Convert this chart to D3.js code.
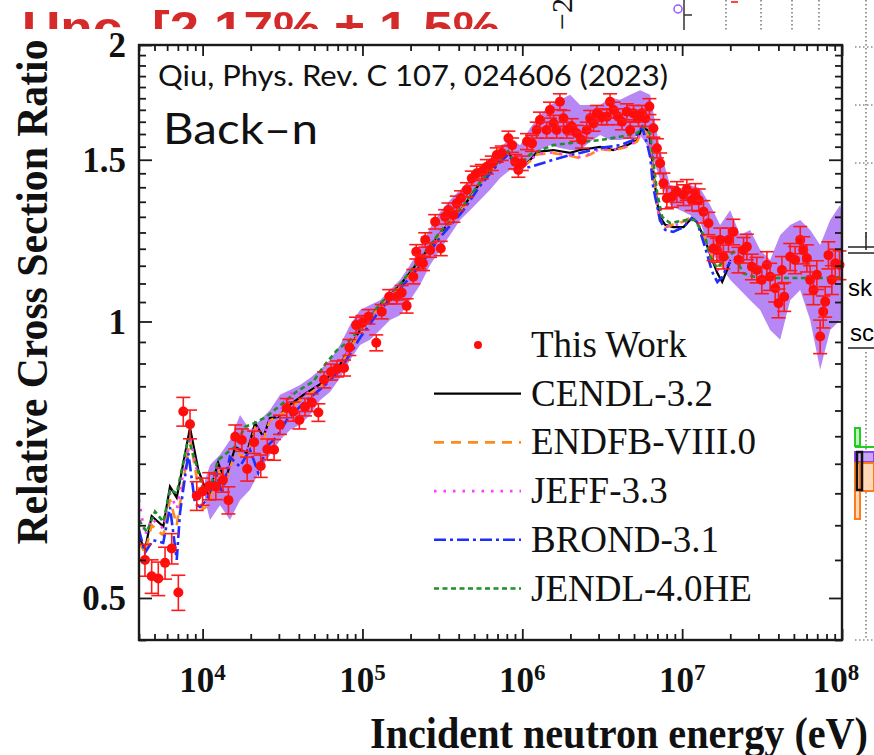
<!DOCTYPE html>
<html>
<head>
<meta charset="utf-8">
<script src="https://cdn.jsdelivr.net/npm/d3@7"></script>
<style>
  html, body { margin: 0; padding: 0; background: #fff; }
  svg { display: block; }
</style>
</head>
<body>
<svg id="chart" width="874" height="755"></svg>
<script>
// ---- data -------------------------------------------------------------
// Measured back-n points: [energy (eV), relative cross-section ratio, uncertainty (%)]
const thisWork = [
  [4.36e3,0.550,4.0],[4.80e3,0.528,4.2],[5.28e3,0.525,4.2],[5.82e3,0.546,4.0],[6.41e3,0.566,3.8],
  [7.05e3,0.507,4.4],[7.57e3,0.798,3.6],[8.34e3,0.773,3.6],[9.19e3,0.646,3.6],[1.00e4,0.653,3.4],
  [1.10e4,0.662,3.4],[1.21e4,0.661,3.2],[1.34e4,0.672,3.0],[1.45e4,0.639,3.4],[1.60e4,0.749,3.0],
  [1.76e4,0.743,2.8],[1.90e4,0.691,3.0],[2.10e4,0.739,2.8],[2.31e4,0.696,2.8],[2.54e4,0.726,2.6],
  [2.80e4,0.725,2.6],[3.05e4,0.772,2.4],[3.36e4,0.805,2.4],[3.70e4,0.798,2.4],[4.03e4,0.781,2.2],
  [4.37e4,0.807,2.2],[4.82e4,0.816,2.2],[5.30e4,0.796,2.2],[5.75e4,0.864,2.0],[6.36e4,0.881,2.0],
  [6.94e4,0.888,2.0],[7.67e4,0.890,2.0],[8.28e4,0.937,2.0],[9.12e4,0.991,2.0],[1.00e5,0.997,1.8],
  [1.09e5,1.012,1.8],[1.22e5,0.948,2.0],[1.32e5,1.025,1.8],[1.47e5,1.064,1.8],[1.64e5,1.064,1.8],
  [1.76e5,1.075,1.8],[1.89e5,1.040,1.8],[2.08e5,1.119,1.8],[2.17e5,1.191,1.8],[2.27e5,1.162,1.8],
  [2.39e5,1.157,1.8],[2.47e5,1.227,1.8],[2.65e5,1.196,1.8],[2.85e5,1.284,1.8],[3.09e5,1.201,1.8],
  [3.29e5,1.300,1.8],[3.45e5,1.322,1.8],[3.71e5,1.306,1.8],[3.89e5,1.345,1.8],[4.14e5,1.363,1.8],
  [4.50e5,1.391,1.8],[4.83e5,1.432,1.8],[5.19e5,1.450,1.8],[5.58e5,1.456,1.8],[6.00e5,1.474,1.8],
  [6.44e5,1.487,1.8],[6.92e5,1.518,1.8],[7.44e5,1.525,1.8],[8.19e5,1.583,1.8],[8.64e5,1.556,1.8],
  [9.02e5,1.493,1.8],[9.45e5,1.462,1.8],[9.93e5,1.487,1.8],[1.07e6,1.570,2.0],[1.15e6,1.563,2.0],
  [1.23e6,1.616,2.0],[1.29e6,1.657,2.0],[1.42e6,1.616,2.0],[1.49e6,1.699,2.0],[1.57e6,1.644,2.0],
  [1.64e6,1.616,2.0],[1.72e6,1.735,2.0],[1.81e6,1.664,2.0],[1.90e6,1.616,2.0],[2.04e6,1.630,2.0],
  [2.19e6,1.603,2.0],[2.36e6,1.576,2.0],[2.53e6,1.616,2.0],[2.66e6,1.664,2.0],[2.79e6,1.644,2.0],
  [2.93e6,1.685,2.0],[3.14e6,1.671,2.0],[3.38e6,1.671,2.0],[3.54e6,1.735,2.0],[3.72e6,1.699,2.0],
  [3.99e6,1.671,2.0],[4.20e6,1.650,2.0],[4.51e6,1.692,2.0],[4.73e6,1.616,2.0],[4.96e6,1.685,2.0],
  [5.33e6,1.664,2.0],[5.60e6,1.685,2.0],[5.87e6,1.664,2.0],[6.24e6,1.714,2.0],[6.61e6,1.623,2.2],
  [6.95e6,1.544,2.4],[7.28e6,1.487,2.6],[7.64e6,1.414,2.6],[8.02e6,1.362,2.6],[8.62e6,1.367,2.6],
  [9.27e6,1.384,2.6],[1.02e7,1.373,2.6],[1.07e7,1.391,2.6],[1.15e7,1.356,2.6],[1.21e7,1.377,2.6],
  [1.27e7,1.356,2.8],[1.36e7,1.317,2.8],[1.46e7,1.279,2.8],[1.57e7,1.201,3.0],[1.65e7,1.196,3.0],
  [1.73e7,1.227,3.0],[1.81e7,1.176,3.0],[1.95e7,1.227,3.0],[2.09e7,1.252,3.2],[2.25e7,1.167,3.2],
  [2.42e7,1.196,3.2],[2.54e7,1.206,3.2],[2.73e7,1.147,3.2],[2.93e7,1.138,3.2],[3.15e7,1.110,3.4],
  [3.39e7,1.152,3.4],[3.55e7,1.119,3.4],[3.82e7,1.087,3.4],[4.01e7,1.047,3.6],[4.21e7,1.138,3.4],
  [4.35e7,1.064,3.6],[4.74e7,1.176,3.4],[5.09e7,1.167,3.4],[5.48e7,1.227,3.4],[5.72e7,1.196,3.4],
  [6.03e7,1.172,3.4],[6.32e7,1.110,3.6],[6.63e7,1.082,3.6],[6.96e7,1.124,3.6],[7.30e7,0.963,4.2],
  [7.63e7,1.025,4.0],[7.85e7,1.051,3.8],[8.23e7,1.181,3.4],[8.64e7,1.110,3.6],[9.07e7,1.157,3.6],
  [9.65e7,1.152,3.6]
];

// Uncertainty band of the measurement: [energy (eV), lower ratio, upper ratio]
const uncertaintyBand = [
  [1.035e4,0.639,0.672],[1.113e4,0.608,0.698],[1.285e4,0.631,0.716],[1.484e4,0.608,0.743],
  [1.714e4,0.639,0.791],[1.980e4,0.656,0.762],[2.287e4,0.689,0.781],[2.641e4,0.716,0.801],
  [3.051e4,0.743,0.832],[3.523e4,0.762,0.842],[4.069e4,0.772,0.853],[4.700e4,0.791,0.868],
  [5.428e4,0.821,0.886],[6.269e4,0.838,0.908],[7.241e4,0.868,0.943],[8.363e4,0.908,0.991],
  [9.660e4,0.943,1.029],[1.116e5,0.955,1.042],[1.289e5,0.979,1.055],[1.488e5,1.004,1.082],
  [1.719e5,1.016,1.110],[1.986e5,1.055,1.152],[2.293e5,1.096,1.202],[2.649e5,1.152,1.264],
  [3.059e5,1.196,1.316],[3.533e5,1.242,1.356],[4.081e5,1.290,1.391],[4.713e5,1.322,1.426],
  [5.444e5,1.356,1.462],[6.288e5,1.391,1.499],[7.262e5,1.433,1.545],[8.388e5,1.462,1.583],
  [9.687e5,1.455,1.556],[1.119e6,1.499,1.624],[1.292e6,1.537,1.678],[1.493e6,1.556,1.721],
  [1.724e6,1.545,1.743],[1.991e6,1.537,1.765],[2.300e6,1.537,1.721],[2.657e6,1.569,1.721],
  [3.068e6,1.596,1.721],[3.543e6,1.576,1.752],[4.093e6,1.576,1.743],[4.728e6,1.583,1.765],
  [5.460e6,1.596,1.786],[6.306e6,1.537,1.765],[7.283e6,1.426,1.537],[8.412e6,1.339,1.408],
  [9.716e6,1.322,1.397],[1.122e7,1.306,1.408],[1.296e7,1.283,1.397],[1.497e7,1.196,1.339],
  [1.729e7,1.152,1.274],[1.997e7,1.110,1.322],[2.306e7,1.082,1.242],[2.664e7,1.055,1.258],
  [3.077e7,1.029,1.196],[3.553e7,0.979,1.167],[4.105e7,0.955,1.242],[4.741e7,1.055,1.274],
  [5.475e7,1.082,1.290],[6.324e7,1.004,1.258],[7.304e7,0.886,1.211],[8.436e7,0.979,1.290],
  [9.743e7,1.004,1.339],[1.0e8,0.991,1.306]
];

// Evaluated-library ratios: [energy (eV), ratio]
const cendl = [
  [4.0e3,0.583],[4.36e3,0.564],[4.80e3,0.614],[5.68e3,0.598],[6.25e3,0.661],[6.89e3,0.643],
  [8.34e3,0.766],[9.40e3,0.689],[1.09e4,0.644],[1.25e4,0.702],[1.38e4,0.669],[1.60e4,0.730],
  [1.89e4,0.719],[2.13e4,0.775],[2.40e4,0.749],[2.64e4,0.785],[2.98e4,0.787],[3.36e4,0.807],
  [4.27e4,0.832],[5.69e4,0.859],[7.24e4,0.897],[9.66e4,0.979],[1.29e5,1.042],[1.72e5,1.096],
  [2.29e5,1.167],[3.06e5,1.248],[4.26e5,1.332],[5.44e5,1.415],[6.95e5,1.488],[8.15e5,1.530],
  [8.76e5,1.499],[9.28e5,1.477],[9.97e5,1.473],[1.12e6,1.499],[1.24e6,1.530],[1.56e6,1.537],
  [1.99e6,1.526],[2.30e6,1.537],[3.07e6,1.549],[3.70e6,1.537],[4.53e6,1.556],[5.23e6,1.576],
  [5.62e6,1.628],[6.04e6,1.616],[6.31e6,1.576],[6.59e6,1.462],[6.98e6,1.346],[7.28e6,1.299],
  [7.83e6,1.274],[8.78e6,1.267],[1.02e7,1.267],[1.15e7,1.296],[1.24e7,1.283],[1.39e7,1.227],
  [1.54e7,1.167],[1.66e7,1.129],[1.78e7,1.104],[1.91e7,1.138],[2.0e7,1.167]
];
const endfb = [
  [4.0e3,0.575],[4.36e3,0.560],[4.80e3,0.600],[5.68e3,0.585],[6.25e3,0.640],[6.89e3,0.600],
  [8.34e3,0.745],[9.40e3,0.660],[1.0e4,0.625],[1.09e4,0.630],[1.25e4,0.690],[1.38e4,0.665],
  [1.60e4,0.720],[1.89e4,0.710],[2.13e4,0.765],[2.40e4,0.745],[2.64e4,0.780],[3.36e4,0.800],
  [4.27e4,0.825],[5.69e4,0.855],[7.24e4,0.895],[9.66e4,0.975],[1.29e5,1.040],[1.72e5,1.090],
  [2.29e5,1.160],[3.06e5,1.245],[4.26e5,1.330],[5.44e5,1.410],[6.95e5,1.485],[8.15e5,1.525],
  [8.76e5,1.495],[9.28e5,1.470],[9.97e5,1.470],[1.12e6,1.495],[1.24e6,1.520],[1.56e6,1.525],
  [1.99e6,1.515],[2.30e6,1.505],[2.66e6,1.520],[3.07e6,1.540],[3.70e6,1.535],[4.53e6,1.550],
  [5.23e6,1.570],[5.62e6,1.615],[6.04e6,1.605],[6.31e6,1.560],[6.59e6,1.440],[6.98e6,1.330],
  [7.28e6,1.285],[7.83e6,1.265],[8.78e6,1.275],[1.02e7,1.285],[1.15e7,1.300],[1.24e7,1.285],
  [1.39e7,1.230],[1.54e7,1.175],[1.66e7,1.150],[1.78e7,1.150],[1.91e7,1.165],[2.0e7,1.175]
];
const jeff = [
  [4.0e3,0.640],[4.36e3,0.585],[4.80e3,0.610],[5.68e3,0.595],[6.25e3,0.650],[6.89e3,0.625],
  [8.34e3,0.750],[9.40e3,0.675],[1.09e4,0.640],[1.25e4,0.700],[1.38e4,0.670],[1.60e4,0.728],
  [1.89e4,0.718],[2.13e4,0.772],[2.40e4,0.748],[2.64e4,0.783],[2.98e4,0.790],[3.36e4,0.830],
  [3.80e4,0.840],[4.27e4,0.830],[5.69e4,0.858],[7.24e4,0.896],[9.66e4,0.977],[1.29e5,1.041],
  [1.72e5,1.093],[2.29e5,1.163],[3.06e5,1.246],[4.26e5,1.331],[5.44e5,1.412],[6.95e5,1.486],
  [8.15e5,1.527],[8.76e5,1.497],[9.28e5,1.474],[9.97e5,1.472],[1.12e6,1.497],[1.24e6,1.522],
  [1.56e6,1.528],[1.99e6,1.518],[2.30e6,1.510],[2.66e6,1.522],[3.07e6,1.542],[3.70e6,1.537],
  [4.53e6,1.552],[5.23e6,1.572],[5.62e6,1.620],[6.04e6,1.610],[6.31e6,1.565],[6.59e6,1.450],
  [6.98e6,1.335],[7.28e6,1.290],[7.83e6,1.268],[8.78e6,1.272],[1.02e7,1.280],[1.15e7,1.298],
  [1.24e7,1.284],[1.39e7,1.228],[1.54e7,1.170],[1.66e7,1.140],[1.78e7,1.130],[1.91e7,1.150],
  [2.0e7,1.165]
];
const brond = [
  [4.0e3,0.593],[4.36e3,0.560],[4.89e3,0.578],[5.67e3,0.574],[6.25e3,0.628],[6.89e3,0.550],
  [7.22e3,0.619],[8.14e3,0.719],[8.96e3,0.634],[9.63e3,0.628],[1.06e4,0.639],[1.23e4,0.681],
  [1.32e4,0.650],[1.48e4,0.712],[1.71e4,0.695],[1.98e4,0.725],[2.23e4,0.684],[2.52e4,0.731],
  [2.91e4,0.749],[3.36e4,0.781],[4.27e4,0.815],[5.69e4,0.849],[7.24e4,0.885],[9.66e4,0.960],
  [1.29e5,1.030],[1.72e5,1.085],[2.29e5,1.150],[3.06e5,1.235],[4.26e5,1.320],[5.44e5,1.405],
  [6.95e5,1.480],[8.15e5,1.520],[8.76e5,1.495],[9.28e5,1.470],[1.0e6,1.470],[1.12e6,1.473],
  [1.56e6,1.500],[1.99e6,1.518],[2.30e6,1.526],[3.07e6,1.545],[4.09e6,1.556],[4.96e6,1.576],
  [5.62e6,1.628],[6.04e6,1.560],[6.31e6,1.511],[6.59e6,1.400],[7.28e6,1.289],[7.83e6,1.258],
  [8.78e6,1.252],[1.02e7,1.267],[1.15e7,1.296],[1.24e7,1.283],[1.39e7,1.205],[1.54e7,1.133],
  [1.66e7,1.104],[1.78e7,1.118],[1.91e7,1.147],[2.0e7,1.160]
];
const jendl = [
  [4.0e3,0.608],[4.47e3,0.590],[5.04e3,0.621],[5.68e3,0.605],[6.25e3,0.656],[6.89e3,0.650],
  [8.14e3,0.746],[9.19e3,0.695],[1.01e4,0.656],[1.11e4,0.656],[1.25e4,0.707],[1.60e4,0.731],
  [1.84e4,0.768],[2.08e4,0.774],[2.52e4,0.788],[3.88e4,0.839],[4.91e4,0.860],[5.90e4,0.900],
  [6.90e4,0.930],[8.40e4,0.955],[9.66e4,0.985],[1.29e5,1.045],[1.72e5,1.098],[2.29e5,1.170],
  [3.06e5,1.252],[4.26e5,1.336],[5.44e5,1.418],[6.95e5,1.490],[8.15e5,1.532],[8.76e5,1.500],
  [9.28e5,1.480],[1.0e6,1.490],[1.12e6,1.520],[1.56e6,1.556],[1.99e6,1.564],[3.07e6,1.576],
  [4.0e6,1.588],[5.23e6,1.604],[5.80e6,1.630],[6.31e6,1.600],[6.59e6,1.500],[6.98e6,1.380],
  [7.50e6,1.300],[8.40e6,1.280],[1.07e7,1.290],[1.20e7,1.290],[1.39e7,1.236],[1.50e7,1.176],
  [1.65e7,1.144],[1.95e7,1.176],[2.09e7,1.190],[2.40e7,1.129],[3.00e7,1.115],[5.00e7,1.115],
  [8.00e7,1.115],[1.0e8,1.118]
];

const legendNames = ["This Work","CENDL-3.2","ENDFB-VIII.0","JEFF-3.3","BROND-3.1","JENDL-4.0HE"];
const xMajorTicks = [1e4,1e5,1e6,1e7,1e8];
const xTickExponents = ["4","5","6","7","8"];
const yMajorTicks = [0.5,1,1.5,2];
const yTickLabels = ["0.5","1","1.5","2"];

// ---- layout -----------------------------------------------------------
const svg = d3.select("#chart");
const L = 139, R = 842, T = 45, B = 640;
const x = d3.scaleLog().domain([4e3, 1e8]).range([L, R]);
const y = d3.scaleLog().domain([0.45, 2]).range([B, T]);

const serif = "'Liberation Serif','Times New Roman',serif";
const sans = "Lato,'Liberation Sans',Arial,sans-serif";

svg.append("defs").append("clipPath").attr("id", "plotClip")
  .append("rect").attr("x", L).attr("y", T).attr("width", R - L).attr("height", B - T);
svg.select("defs").append("clipPath").attr("id", "topClip")
  .append("rect").attr("x", 0).attr("y", 0).attr("width", 540).attr("height", 29);

// ---- fragments of the neighbouring panels ------------------------------
const frag = svg.append("g");
frag.append("text").attr("x", 22).attr("y", 44).attr("clip-path", "url(#topClip)")
  .attr("font-family", "'Liberation Sans',Arial,sans-serif").attr("font-weight", "bold")
  .attr("font-size", 46).attr("fill", "#d42a2a").attr("textLength", 478)
  .attr("lengthAdjust", "spacingAndGlyphs").text("Unc. [2.17% ± 1.5%");
frag.append("text").attr("transform", "translate(572,30) rotate(-90)")
  .attr("font-family", serif).attr("font-size", 30).attr("fill", "#111").text("−2");
frag.append("line").attr("x1", 684).attr("x2", 684).attr("y1", 0).attr("y2", 30).attr("stroke", "#333").attr("stroke-width", 1.5);
frag.append("line").attr("x1", 684).attr("x2", 692).attr("y1", 15).attr("y2", 15).attr("stroke", "#333").attr("stroke-width", 1.5);
frag.append("circle").attr("cx", 678).attr("cy", 9).attr("r", 4).attr("fill", "none").attr("stroke", "#9a55ff").attr("stroke-width", 1.5);
frag.append("line").attr("x1", 731).attr("x2", 738).attr("y1", 2).attr("y2", 2).attr("stroke", "#f44").attr("stroke-width", 2);
[726, 761, 792, 819].forEach(px => frag.append("line").attr("x1", px).attr("x2", px).attr("y1", 0).attr("y2", 30)
  .attr("stroke", "#555").attr("stroke-width", 1.2).attr("stroke-dasharray", "1.5,2.5"));
frag.append("line").attr("x1", 866).attr("x2", 866).attr("y1", 0).attr("y2", 240).attr("stroke", "#555").attr("stroke-width", 1.2).attr("stroke-dasharray", "1.5,2.5");
frag.append("line").attr("x1", 866).attr("x2", 866).attr("y1", 352).attr("y2", 640).attr("stroke", "#555").attr("stroke-width", 1.2).attr("stroke-dasharray", "1.5,2.5");
[47, 105, 163, 640].forEach(py => frag.append("line").attr("x1", 855).attr("x2", 874).attr("y1", py).attr("y2", py)
  .attr("stroke", "#555").attr("stroke-width", 1.2).attr("stroke-dasharray", "1.5,2.5"));
frag.append("line").attr("x1", 866).attr("x2", 866).attr("y1", 232).attr("y2", 250).attr("stroke", "#222").attr("stroke-width", 1.5);
[247, 253].forEach(py => frag.append("line").attr("x1", 848).attr("x2", 874).attr("y1", py).attr("y2", py).attr("stroke", "#222").attr("stroke-width", 1.5));
frag.append("text").attr("x", 848).attr("y", 296).attr("font-family", "'Liberation Sans',Arial,sans-serif").attr("font-size", 24).text("sk");
frag.append("text").attr("x", 850).attr("y", 341).attr("font-family", "'Liberation Sans',Arial,sans-serif").attr("font-size", 24).text("sc");
frag.append("line").attr("x1", 848).attr("x2", 874).attr("y1", 348).attr("y2", 348).attr("stroke", "#222").attr("stroke-width", 1.5);
frag.append("rect").attr("x", 855).attr("y", 428).attr("width", 5).attr("height", 18).attr("fill", "#bff0bf").attr("stroke", "#22cc22").attr("stroke-width", 2);
frag.append("line").attr("x1", 855).attr("x2", 874).attr("y1", 447).attr("y2", 447).attr("stroke", "#22cc22").attr("stroke-width", 2);
frag.append("rect").attr("x", 855).attr("y", 452).attr("width", 19).attr("height", 10).attr("fill", "#c9a6f5").attr("stroke", "#8c44ee").attr("stroke-width", 2);
frag.append("rect").attr("x", 855).attr("y", 463).attr("width", 5).attr("height", 56).attr("fill", "#ffd9b8").attr("stroke", "#ff7a1a").attr("stroke-width", 2);
frag.append("rect").attr("x", 861).attr("y", 463).attr("width", 13).attr("height", 28).attr("fill", "#ffd9b8").attr("stroke", "#ff7a1a").attr("stroke-width", 2);
frag.append("rect").attr("x", 857).attr("y", 452).attr("width", 5).attr("height", 38).attr("fill", "none").attr("stroke", "#111").attr("stroke-width", 2.5);

// ---- plot contents ---------------------------------------------------------
const plot = svg.append("g").attr("clip-path", "url(#plotClip)");

plot.append("path").datum(uncertaintyBand)
  .attr("d", d3.area().x(d => x(d[0])).y0(d => y(d[1])).y1(d => y(d[2])))
  .attr("fill", "#ae7af4").attr("fill-opacity", 0.9);

const curves = [
  { data: cendl, color: "#000000", dash: null, width: 2.2 },
  { data: endfb, color: "#ff8c1a", dash: "10,7", width: 2.6 },
  { data: jeff,  color: "#ff3cff", dash: "2.5,7", width: 2.6 },
  { data: brond, color: "#1f2dff", dash: "12,4,3,4", width: 2.6 },
  { data: jendl, color: "#1f8f2a", dash: "5,3.5", width: 2.6 }
];
const line = d3.line().x(d => x(d[0])).y(d => y(d[1]));
curves.forEach(c => {
  plot.append("path").datum(c.data).attr("d", line)
    .attr("fill", "none").attr("stroke", c.color).attr("stroke-width", c.width)
    .attr("stroke-dasharray", c.dash);
});

const pts = svg.append("g");
thisWork.forEach(([e, r, pct]) => {
  const px = x(e), lo = y(r * (1 - pct / 100)), hi = y(r * (1 + pct / 100));
  pts.append("line").attr("x1", px).attr("x2", px).attr("y1", lo).attr("y2", hi)
    .attr("stroke", "#ff1a1a").attr("stroke-width", 1.6);
  [lo, hi].forEach(v => pts.append("line").attr("x1", px - 7).attr("x2", px + 7).attr("y1", v).attr("y2", v)
    .attr("stroke", "#ff1a1a").attr("stroke-width", 1.6));
  pts.append("circle").attr("cx", px).attr("cy", y(r)).attr("r", 5).attr("fill", "#ff0d0d");
});

// ---- frame and ticks ----------------------------------------------------
const xMinor = [];
for (let d = 3; d <= 7; d++) for (let k = 2; k <= 9; k++) {
  const v = k * Math.pow(10, d);
  if (v >= 4e3 && v <= 1e8) xMinor.push(v);
}
const yMinor = d3.range(9, 41).map(i => +(i * 0.05).toFixed(2)).filter(v => yMajorTicks.indexOf(v) < 0);

function tickAxis(axisFn, scale, values, size, transform) {
  const g = svg.append("g").attr("transform", transform)
    .call(axisFn(scale).tickValues(values).tickSize(size).tickFormat(""));
  g.select(".domain").remove();
  g.selectAll("line").attr("stroke", "#1a1a1a").attr("stroke-width", 1.8);
}
tickAxis(d3.axisBottom, x, xMinor, -6, `translate(0,${B})`);
tickAxis(d3.axisBottom, x, xMajorTicks, -11, `translate(0,${B})`);
tickAxis(d3.axisTop, x, xMinor, -6, `translate(0,${T})`);
tickAxis(d3.axisTop, x, xMajorTicks, -11, `translate(0,${T})`);
tickAxis(d3.axisLeft, y, yMinor, -7, `translate(${L},0)`);
tickAxis(d3.axisLeft, y, yMajorTicks, -13, `translate(${L},0)`);
tickAxis(d3.axisRight, y, yMinor, -7, `translate(${R},0)`);
tickAxis(d3.axisRight, y, yMajorTicks, -13, `translate(${R},0)`);

svg.append("rect").attr("x", L).attr("y", T).attr("width", R - L).attr("height", B - T)
  .attr("fill", "none").attr("stroke", "#1a1a1a").attr("stroke-width", 2.4);

// tick labels
yMajorTicks.forEach((v, i) => {
  svg.append("text").attr("x", 126).attr("y", y(v)).attr("dy", "0.35em")
    .attr("text-anchor", "end").attr("font-family", serif).attr("font-weight", "bold")
    .attr("font-size", 35).attr("fill", "#111").text(yTickLabels[i]);
});
xMajorTicks.forEach((v, i) => {
  const cx = Math.min(x(v), 874 - 38);
  const t = svg.append("text").attr("x", cx).attr("y", 692).attr("text-anchor", "middle")
    .attr("font-family", serif).attr("font-weight", "bold").attr("fill", "#111");
  t.append("tspan").attr("font-size", 35).text("10");
  t.append("tspan").attr("font-size", 23).attr("dy", -12).text(xTickExponents[i]);
});

// axis titles
svg.append("text").attr("transform", "translate(47,292) rotate(-90)")
  .attr("text-anchor", "middle").attr("font-family", serif).attr("font-weight", "bold")
  .attr("font-size", 45).attr("textLength", 505).attr("lengthAdjust", "spacingAndGlyphs")
  .attr("fill", "#111").text("Relative Cross Section Ratio");
svg.append("text").attr("x", 370).attr("y", 748)
  .attr("font-family", serif).attr("font-weight", "bold")
  .attr("font-size", 45).attr("textLength", 498).attr("lengthAdjust", "spacingAndGlyphs")
  .attr("fill", "#111").text("Incident neutron energy (eV)");

// annotations
svg.append("text").attr("x", 158).attr("y", 86).attr("font-family", sans)
  .attr("font-size", 28).attr("textLength", 510).attr("lengthAdjust", "spacingAndGlyphs")
  .attr("fill", "#111").text("Qiu, Phys. Rev. C 107, 024606 (2023)");
svg.append("text").attr("x", 163).attr("y", 144).attr("font-family", sans)
  .attr("font-size", 42).attr("textLength", 155).attr("lengthAdjust", "spacingAndGlyphs")
  .attr("fill", "#111").text("Back–n");

// legend
const legend = svg.append("g");
const rowY = i => 345 + i * 48.7;
legendNames.forEach((name, i) => {
  const yy = rowY(i);
  if (i === 0) {
    legend.append("circle").attr("cx", 478).attr("cy", yy).attr("r", 4).attr("fill", "#ff0d0d");
  } else {
    const c = curves[i - 1];
    legend.append("line").attr("x1", 434).attr("x2", 521).attr("y1", yy).attr("y2", yy)
      .attr("stroke", c.color).attr("stroke-width", c.width).attr("stroke-dasharray", c.dash);
  }
  legend.append("text").attr("x", 531).attr("y", yy + 12)
    .attr("font-family", serif).attr("font-size", 37).attr("fill", "#111").text(name);
});
</script>
</body>
</html>
